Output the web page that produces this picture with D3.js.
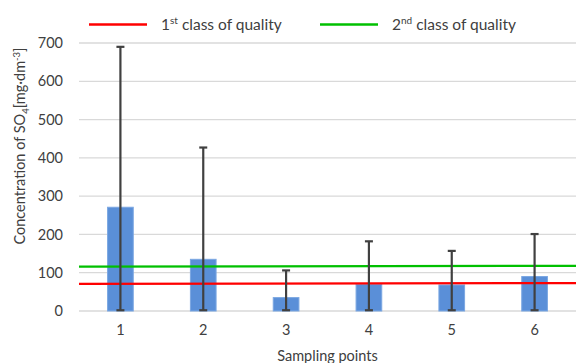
<!DOCTYPE html>
<html>
<head>
<meta charset="utf-8">
<script src="https://cdn.jsdelivr.net/npm/d3@7"></script>
<style>
  body { margin: 0; background: #fff; }
  text { font-family: Lato, "Open Sans", sans-serif; fill: #404040; }
</style>
</head>
<body>
<script>
// sampling points and mean SO4 concentration
const points = ['1', '2', '3', '4', '5', '6']
const means = [271, 135, 35, 70, 68, 90]
const errLow = [2, 2, 2, 2, 2, 2]
const errHigh = [690, 427, 106, 182, 157, 201]

// quality class limits (left edge, right edge of plot)
const class1 = [71, 73]
const class2 = [116, 118]

const yTicks = [0, 100, 200, 300, 400, 500, 600, 700]

const width = 576, height = 363
const margin = {top: 43, bottom: 52, left: 79, right: 0}

const svg = d3.select('body').append('svg')
  .attr('width', width)
  .attr('height', height)

const x = d3.scaleBand()
  .domain(points)
  .range([margin.left, width - margin.right])
  .paddingInner(0.69)
  .paddingOuter(0.345)

const y = d3.scaleLinear()
  .domain([0, 700])
  .range([height - margin.bottom, margin.top])

const edge = d3.scaleLinear().domain([0, 1]).range([margin.left, width - margin.right])

/* gridlines */
svg.append('g')
  .selectAll('line')
  .data(yTicks)
  .enter().append('line')
  .attr('x1', margin.left)
  .attr('x2', width - margin.right)
  .attr('y1', d => y(d))
  .attr('y2', d => y(d))
  .attr('stroke', '#d9d9d9')
  .attr('stroke-width', 1.3)

/* y axis labels */
const yaxis = d3.axisLeft(y).tickValues(yTicks).tickSize(0).tickPadding(0)
svg.append('g')
  .attr('transform', `translate(${margin.left - 16},0)`)
  .call(yaxis)
  .call(g => g.select('.domain').remove())
  .selectAll('text')
  .style('font-size', '14.5px')
  .attr('fill', '#404040')

/* x axis labels */
const xaxis = d3.axisBottom(x).tickSize(0).tickPadding(14)
svg.append('g')
  .attr('transform', `translate(0,${y(0)})`)
  .call(xaxis)
  .call(g => g.select('.domain').remove())
  .selectAll('text')
  .style('font-size', '14.5px')
  .attr('fill', '#404040')

/* bars */
svg.append('g')
  .selectAll('rect')
  .data(means)
  .enter().append('rect')
  .attr('x', (d, i) => x(points[i]))
  .attr('y', d => y(d))
  .attr('width', x.bandwidth())
  .attr('height', d => y(0) - y(d))
  .attr('fill', '#5a8fd8')
  .attr('stroke', '#7ba7e2')
  .attr('stroke-width', 1)

/* quality lines */
const line = d3.line().x((d, i) => edge(i)).y(d => y(d))
svg.append('path').attr('d', line(class1))
  .attr('fill', 'none').attr('stroke', '#ff0000').attr('stroke-width', 2.3)
svg.append('path').attr('d', line(class2))
  .attr('fill', 'none').attr('stroke', '#00c000').attr('stroke-width', 2.3)

/* error bars */
const eb = svg.append('g').attr('stroke', '#404040').attr('stroke-width', 2.2)
points.forEach((p, i) => {
  const cx = x(p) + x.bandwidth() / 2
  eb.append('line').attr('x1', cx).attr('x2', cx).attr('y1', y(errLow[i])).attr('y2', y(errHigh[i]))
  eb.append('line').attr('x1', cx - 4).attr('x2', cx + 4).attr('y1', y(errHigh[i])).attr('y2', y(errHigh[i]))
  eb.append('line').attr('x1', cx - 4).attr('x2', cx + 4).attr('y1', y(errLow[i])).attr('y2', y(errLow[i]))
})

/* legend */
const legend = [
  {color: '#ff0000', x: 89, sup: 'st'},
  {color: '#00c000', x: 320, sup: 'nd'}
]
legend.forEach((l, i) => {
  svg.append('line').attr('x1', l.x).attr('x2', l.x + 58).attr('y1', 24.5).attr('y2', 24.5)
    .attr('stroke', l.color).attr('stroke-width', 2.3)
  const t = svg.append('text').attr('x', l.x + 72).attr('y', 30).style('font-size', '15.5px')
  t.append('tspan').text(String(i + 1))
  t.append('tspan').text(l.sup).attr('dy', -6).style('font-size', '10px')
  t.append('tspan').text(' class of quality').attr('dy', 6)
})

/* axis titles */
const yt = svg.append('text')
  .attr('transform', 'translate(25,146) rotate(-90)')
  .attr('text-anchor', 'middle')
  .style('font-size', '14.5px')
yt.append('tspan').text('Concentration of SO')
yt.append('tspan').text('4').attr('dy', 4).style('font-size', '9.5px')
yt.append('tspan').text('[mg·dm').attr('dy', -4)
yt.append('tspan').text('-3').attr('dy', -5).style('font-size', '9.5px')
yt.append('tspan').text(']').attr('dy', 5)

svg.append('text')
  .attr('x', (margin.left + width) / 2)
  .attr('y', 361)
  .attr('text-anchor', 'middle')
  .style('font-size', '14.5px')
  .text('Sampling points')
</script>
</body>
</html>
